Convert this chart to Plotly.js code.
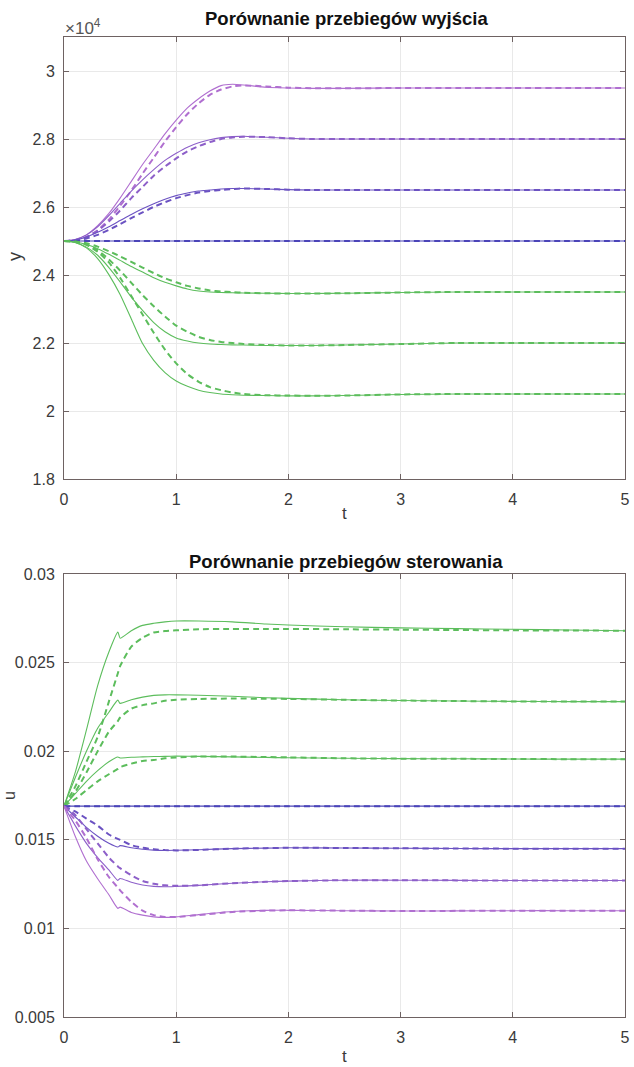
<!DOCTYPE html>
<html>
<head>
<meta charset="utf-8">
<script src="https://cdn.plot.ly/plotly-3.0.1.min.js"></script>
<style>html,body{margin:0;padding:0;background:#fff;}#chart{width:634px;height:1067px;}</style>
</head>
<body>
<div id="chart"></div>
<script>
// ---------- DATA: output y (values in units of 1e4) ----------
const tY = [0, 0.1, 0.2, 0.3, 0.4, 0.5, 0.6, 0.7, 0.8, 0.9, 1.0, 1.1, 1.2, 1.3, 1.4, 1.5, 1.6, 1.8, 2.0, 2.2, 2.5, 3, 3.5, 4, 4.5, 5];

const y295_solid  = [2.5, 2.5045, 2.518, 2.545, 2.581, 2.626, 2.6755, 2.725, 2.77, 2.815, 2.8555, 2.8915, 2.9185, 2.941, 2.957, 2.961, 2.959, 2.952, 2.95, 2.949, 2.949, 2.95, 2.95, 2.95, 2.95, 2.95];
const y295_dashed = [2.5, 2.502, 2.511, 2.5315, 2.563, 2.6035, 2.6485, 2.698, 2.745, 2.7925, 2.835, 2.8735, 2.905, 2.93, 2.9455, 2.9545, 2.9577, 2.9545, 2.951, 2.9495, 2.949, 2.95, 2.95, 2.95, 2.95, 2.95];
const y280_solid  = [2.5, 2.5045, 2.518, 2.542, 2.575, 2.611, 2.647, 2.68, 2.71, 2.737, 2.758, 2.776, 2.789, 2.798, 2.804, 2.807, 2.808, 2.805, 2.802, 2.8, 2.8, 2.8, 2.8, 2.8, 2.8, 2.8];
const y280_dashed = [2.5, 2.5024, 2.512, 2.53, 2.557, 2.59, 2.626, 2.659, 2.692, 2.719, 2.743, 2.764, 2.779, 2.791, 2.8, 2.8045, 2.8066, 2.8055, 2.802, 2.8, 2.8, 2.8, 2.8, 2.8, 2.8, 2.8];
const y265_solid  = [2.5, 2.503, 2.512, 2.5255, 2.542, 2.56, 2.578, 2.5945, 2.6095, 2.623, 2.6335, 2.641, 2.647, 2.65, 2.653, 2.6545, 2.6545, 2.653, 2.651, 2.65, 2.65, 2.65, 2.65, 2.65, 2.65, 2.65];
const y265_dashed = [2.5, 2.5015, 2.5075, 2.518, 2.533, 2.5495, 2.5675, 2.584, 2.6005, 2.614, 2.626, 2.635, 2.6425, 2.647, 2.65, 2.653, 2.6545, 2.653, 2.651, 2.65, 2.65, 2.65, 2.65, 2.65, 2.65, 2.65];
const y250_solid  = [2.5, 2.5, 2.5, 2.5, 2.5, 2.5, 2.5, 2.5, 2.5, 2.5, 2.5, 2.5, 2.5, 2.5, 2.5, 2.5, 2.5, 2.5, 2.5, 2.5, 2.5, 2.5, 2.5, 2.5, 2.5, 2.5];
const y250_dashed = [2.5, 2.5, 2.5, 2.5, 2.5, 2.5, 2.5, 2.5, 2.5, 2.5, 2.5, 2.5, 2.5, 2.5, 2.5, 2.5, 2.5, 2.5, 2.5, 2.5, 2.5, 2.5, 2.5, 2.5, 2.5, 2.5];
const y235_solid  = [2.5, 2.497, 2.4895, 2.4775, 2.461, 2.443, 2.425, 2.4085, 2.392, 2.3785, 2.368, 2.359, 2.353, 2.35, 2.3485, 2.3478, 2.347, 2.3463, 2.3455, 2.3455, 2.3463, 2.3485, 2.35, 2.35, 2.35, 2.35];
const y235_dashed = [2.5, 2.4985, 2.4933, 2.4835, 2.47, 2.455, 2.4385, 2.422, 2.4055, 2.3905, 2.3785, 2.368, 2.3605, 2.3545, 2.3515, 2.35, 2.3478, 2.3463, 2.3455, 2.3455, 2.3463, 2.3485, 2.35, 2.35, 2.35, 2.35];
const y220_solid  = [2.5, 2.4955, 2.482, 2.458, 2.422, 2.38, 2.335, 2.296, 2.26, 2.233, 2.215, 2.206, 2.2, 2.197, 2.1955, 2.1946, 2.194, 2.1925, 2.1925, 2.1925, 2.194, 2.197, 2.2, 2.2, 2.2, 2.2];
const y220_dashed = [2.5, 2.4976, 2.4895, 2.473, 2.446, 2.413, 2.377, 2.341, 2.308, 2.278, 2.251, 2.233, 2.218, 2.209, 2.203, 2.2, 2.197, 2.194, 2.1925, 2.1925, 2.194, 2.197, 2.2, 2.2, 2.2, 2.2];
const y205_solid  = [2.5, 2.4955, 2.4798, 2.4483, 2.401, 2.3425, 2.2705, 2.1985, 2.149, 2.113, 2.0883, 2.0725, 2.0613, 2.0545, 2.05, 2.0478, 2.0464, 2.0455, 2.0446, 2.0446, 2.0455, 2.0487, 2.05, 2.05, 2.05, 2.05];
const y205_dashed = [2.5, 2.4978, 2.4888, 2.4685, 2.437, 2.392, 2.338, 2.284, 2.23, 2.1805, 2.14, 2.1085, 2.086, 2.0703, 2.0613, 2.0545, 2.05, 2.0464, 2.0455, 2.0446, 2.0455, 2.0487, 2.05, 2.05, 2.05, 2.05];

// ---------- DATA: control u ----------
const tU = [0, 0.1, 0.2, 0.3, 0.4, 0.48, 0.5, 0.6, 0.7, 0.8, 0.9, 1.0, 1.2, 1.5, 1.8, 2.0, 2.5, 3, 3.5, 4, 4.5, 5];

const u268_solid  = [0.0169, 0.0188, 0.0212, 0.0237, 0.0256, 0.02672, 0.02638, 0.0268, 0.0271, 0.02722, 0.0273, 0.02735, 0.02735, 0.0273, 0.02718, 0.02712, 0.02702, 0.02696, 0.02692, 0.02688, 0.02684, 0.0268];
const u268_dashed = [0.0169, 0.0180, 0.0194, 0.0208, 0.0228, 0.0244, 0.0248, 0.0259, 0.0264, 0.0267, 0.02678, 0.02682, 0.02688, 0.0269, 0.0269, 0.0269, 0.02688, 0.02686, 0.02684, 0.02682, 0.02681, 0.0268];
const u228_solid  = [0.0169, 0.0185, 0.0200, 0.0213, 0.0222, 0.02288, 0.0227, 0.0229, 0.02305, 0.02315, 0.02318, 0.02318, 0.02316, 0.0231, 0.02302, 0.02298, 0.0229, 0.02286, 0.02283, 0.02281, 0.0228, 0.0228];
const u228_dashed = [0.0169, 0.0177, 0.0188, 0.0200, 0.0211, 0.0217, 0.0219, 0.0224, 0.0226, 0.0227, 0.02285, 0.0229, 0.02295, 0.02297, 0.02296, 0.02295, 0.0229, 0.02286, 0.02283, 0.02281, 0.0228, 0.0228];
const u196_solid  = [0.0169, 0.0176, 0.0183, 0.0189, 0.0194, 0.01967, 0.01962, 0.01966, 0.01968, 0.0197, 0.01971, 0.01972, 0.01971, 0.01968, 0.01965, 0.01963, 0.0196, 0.01958, 0.01957, 0.01956, 0.01955, 0.01955];
const u196_dashed = [0.0169, 0.0173, 0.0178, 0.0183, 0.0187, 0.0190, 0.0191, 0.0193, 0.01945, 0.0195, 0.0196, 0.01965, 0.0197, 0.0197, 0.01967, 0.01965, 0.0196, 0.01958, 0.01957, 0.01956, 0.01955, 0.01955];
const u169_solid  = [0.0169, 0.0169, 0.0169, 0.0169, 0.0169, 0.0169, 0.0169, 0.0169, 0.0169, 0.0169, 0.0169, 0.0169, 0.0169, 0.0169, 0.0169, 0.0169, 0.0169, 0.0169, 0.0169, 0.0169, 0.0169, 0.0169];
const u169_dashed = [0.0169, 0.0169, 0.0169, 0.0169, 0.0169, 0.0169, 0.0169, 0.0169, 0.0169, 0.0169, 0.0169, 0.0169, 0.0169, 0.0169, 0.0169, 0.0169, 0.0169, 0.0169, 0.0169, 0.0169, 0.0169, 0.0169];
const u145_solid  = [0.0169, 0.0163, 0.0157, 0.0152, 0.0148, 0.01459, 0.01467, 0.01455, 0.01447, 0.01442, 0.0144, 0.01441, 0.01444, 0.0145, 0.01453, 0.01455, 0.01454, 0.01452, 0.01451, 0.0145, 0.0145, 0.0145];
const u145_dashed = [0.0169, 0.0166, 0.0162, 0.0158, 0.0153, 0.01505, 0.0150, 0.0147, 0.01455, 0.01447, 0.01442, 0.0144, 0.01443, 0.0145, 0.01453, 0.01455, 0.01454, 0.01452, 0.01451, 0.0145, 0.0145, 0.0145];
const u127_solid  = [0.0169, 0.0158, 0.0148, 0.0140, 0.0133, 0.01271, 0.01282, 0.0126, 0.01245, 0.01237, 0.01235, 0.01237, 0.01243, 0.01255, 0.01263, 0.01267, 0.01272, 0.01272, 0.01271, 0.0127, 0.0127, 0.0127];
const u127_dashed = [0.0169, 0.0164, 0.0156, 0.0148, 0.0140, 0.0135, 0.0134, 0.0130, 0.01268, 0.01252, 0.01243, 0.0124, 0.01243, 0.01255, 0.01263, 0.01267, 0.01272, 0.01272, 0.01271, 0.0127, 0.0127, 0.0127];
const u110_solid  = [0.0169, 0.0152, 0.0138, 0.0128, 0.0119, 0.01113, 0.0112, 0.0109, 0.01075, 0.01065, 0.01062, 0.01065, 0.01078, 0.01095, 0.01102, 0.01102, 0.011, 0.01098, 0.01099, 0.011, 0.011, 0.011];
const u110_dashed = [0.0169, 0.0161, 0.0151, 0.0139, 0.0129, 0.0123, 0.01215, 0.0115, 0.0110, 0.01075, 0.01065, 0.01065, 0.01075, 0.01093, 0.011, 0.01102, 0.011, 0.01098, 0.01099, 0.011, 0.011, 0.011];

// ---------- tick labels ----------
const xTicks = [0, 1, 2, 3, 4, 5];
const xTickText = ['0', '1', '2', '3', '4', '5'];
const yTicks = [1.8, 2, 2.2, 2.4, 2.6, 2.8, 3];
const yTickText = ['1.8', '2', '2.2', '2.4', '2.6', '2.8', '3'];
const uTicks = [0.005, 0.01, 0.015, 0.02, 0.025, 0.03];
const uTickText = ['0.005', '0.01', '0.015', '0.02', '0.025', '0.03'];

// ---------- styling ----------
const C_PINK = '#b06fd0', C_PURP = '#8d5fc9', C_VIO = '#6b52c2', C_BLUE = '#4a44b8', C_GREEN = '#5cbd5c';

const ySeries = [
  [y295_solid, y295_dashed, C_PINK], [y280_solid, y280_dashed, C_PURP], [y265_solid, y265_dashed, C_VIO],
  [y250_solid, y250_dashed, C_BLUE], [y235_solid, y235_dashed, C_GREEN], [y220_solid, y220_dashed, C_GREEN],
  [y205_solid, y205_dashed, C_GREEN]
];
const uSeries = [
  [u268_solid, u268_dashed, C_GREEN], [u228_solid, u228_dashed, C_GREEN], [u196_solid, u196_dashed, C_GREEN],
  [u169_solid, u169_dashed, C_BLUE], [u145_solid, u145_dashed, C_VIO], [u127_solid, u127_dashed, C_PURP],
  [u110_solid, u110_dashed, C_PINK]
];

const traces = [];
function add(t, s, xa, ya) {
  s.forEach(([sol, das, col]) => {
    traces.push({x: t, y: sol, xaxis: xa, yaxis: ya, mode: 'lines', hoverinfo: 'skip',
      line: {color: col, width: 1.1, shape: 'spline', smoothing: 0.6}});
    traces.push({x: t, y: das, xaxis: xa, yaxis: ya, mode: 'lines', hoverinfo: 'skip',
      line: {color: col, width: 2, dash: '6px,4px', shape: 'spline', smoothing: 0.6}});
  });
}
add(tY, ySeries, 'x', 'y');
add(tU, uSeries, 'x2', 'y2');

const AX = '#6e6262', GRID = '#e9e9e9', TXT = '#3a3a3a';
const FONT = 'Liberation Sans, Arial, Helvetica, sans-serif';
function axisBase(extra) {
  return Object.assign({
    showline: true, linecolor: AX, linewidth: 1, mirror: 'ticks',
    ticks: 'inside', ticklen: 5, tickcolor: AX, tickwidth: 1,
    showgrid: true, gridcolor: GRID, gridwidth: 1, zeroline: false,
    tickfont: {family: FONT, size: 16, color: TXT}, fixedrange: true
  }, extra);
}

const L = 64, R = 625, TOP = 37, BOT = 1017;
const H = BOT - TOP;
const py = p => (BOT - p) / H;      // pixel -> paper y
const px = p => (p - L) / (R - L);  // pixel -> paper x

const layout = {
  width: 634, height: 1067,
  margin: {l: L, r: 634 - R, t: TOP, b: 1067 - BOT},
  paper_bgcolor: '#fff', plot_bgcolor: '#fff',
  showlegend: false,
  font: {family: FONT, color: TXT},
  xaxis: axisBase({anchor: 'y', domain: [0, 1], range: [0, 5], tickvals: xTicks, ticktext: xTickText, ticklabelstandoff: 6}),
  yaxis: axisBase({anchor: 'x', domain: [py(479), 1], range: [1.8, 3.1], tickvals: yTicks, ticktext: yTickText, ticklabelstandoff: 5}),
  xaxis2: axisBase({anchor: 'y2', domain: [0, 1], range: [0, 5], tickvals: xTicks, ticktext: xTickText, ticklabelstandoff: 6}),
  yaxis2: axisBase({anchor: 'x2', domain: [0, py(574)], range: [0.005, 0.03], tickvals: uTicks, ticktext: uTickText, ticklabelstandoff: 5}),
  annotations: [
    {text: '<b>Porównanie przebiegów wyjścia</b>', xref: 'paper', yref: 'paper', x: px(346), y: py(18),
     xanchor: 'center', yanchor: 'middle', showarrow: false, font: {family: FONT, size: 18.5, color: '#111'}},
    {text: '<b>Porównanie przebiegów sterowania</b>', xref: 'paper', yref: 'paper', x: px(346), y: py(561),
     xanchor: 'center', yanchor: 'middle', showarrow: false, font: {family: FONT, size: 18.5, color: '#111'}},
    {text: '×10<sup>4</sup>', xref: 'paper', yref: 'paper', x: px(63), y: py(27),
     xanchor: 'left', yanchor: 'middle', showarrow: false, font: {family: FONT, size: 17, color: '#555'}},
    {text: 't', xref: 'paper', yref: 'paper', x: px(344), y: py(513),
     xanchor: 'center', yanchor: 'middle', showarrow: false, font: {family: FONT, size: 17, color: TXT}},
    {text: 't', xref: 'paper', yref: 'paper', x: px(344), y: py(1056),
     xanchor: 'center', yanchor: 'middle', showarrow: false, font: {family: FONT, size: 17, color: TXT}},
    {text: 'y', xref: 'paper', yref: 'paper', x: px(15), y: py(257), textangle: -90,
     xanchor: 'center', yanchor: 'middle', showarrow: false, font: {family: FONT, size: 18, color: TXT}},
    {text: 'u', xref: 'paper', yref: 'paper', x: px(9), y: py(796), textangle: -90,
     xanchor: 'center', yanchor: 'middle', showarrow: false, font: {family: FONT, size: 16, color: TXT}}
  ]
};

Plotly.newPlot('chart', traces, layout, {displayModeBar: false, staticPlot: true});
</script>
</body>
</html>
